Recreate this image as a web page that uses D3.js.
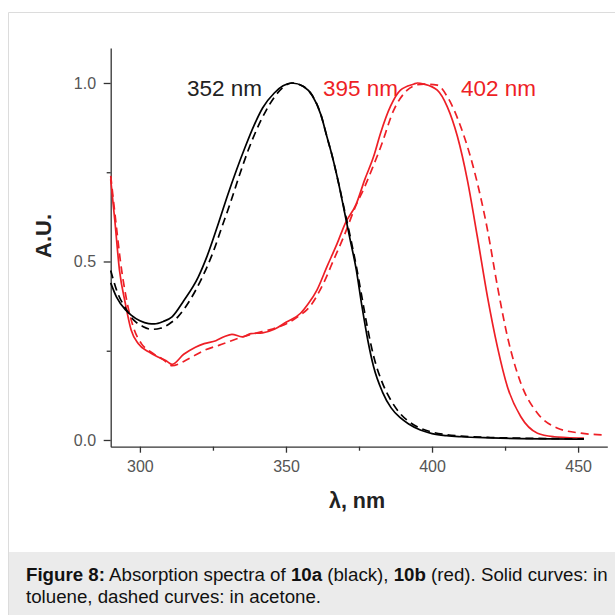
<!DOCTYPE html>
<html>
<head>
<meta charset="utf-8">
<script src="https://cdn.jsdelivr.net/npm/d3@7"></script>
<style>
  html, body { margin: 0; padding: 0; background: #fff; }
  svg { display: block; }
</style>
</head>
<body>
<div id="contenedor"></div>
<script>
// 10a (negro) en tolueno
const lambdaNegroSolido = [290, 292, 295, 297, 300, 303, 305, 308, 311, 315, 320, 323, 327, 330, 333, 336, 339, 342, 346, 349, 352, 356, 359, 362, 364, 366, 368, 370, 372, 374, 376, 378, 380, 383, 386, 389, 392, 396, 400, 405, 410, 420, 430, 440, 452];
const absNegroSolido = [0.44, 0.40, 0.365, 0.35, 0.334, 0.326, 0.325, 0.332, 0.345, 0.39, 0.457, 0.515, 0.61, 0.685, 0.755, 0.82, 0.88, 0.93, 0.972, 0.992, 1.0, 0.99, 0.965, 0.91, 0.85, 0.79, 0.72, 0.64, 0.56, 0.48, 0.375, 0.28, 0.205, 0.135, 0.09, 0.063, 0.045, 0.028, 0.018, 0.012, 0.009, 0.006, 0.004, 0.003, 0.002];

// 10a (negro) en acetona
const lambdaNegroGuiones = [290, 292, 295, 298, 301, 304, 307, 310, 313, 317, 321, 325, 328, 331, 334, 337, 340, 343, 346, 349, 352, 356, 359, 362, 364, 366, 368, 370, 372, 374, 376, 378, 380, 383, 386, 389, 392, 396, 400, 405, 410, 420, 430, 440, 452];
const absNegroGuiones = [0.475, 0.42, 0.37, 0.335, 0.318, 0.31, 0.313, 0.325, 0.345, 0.39, 0.45, 0.525, 0.595, 0.665, 0.74, 0.81, 0.87, 0.92, 0.96, 0.988, 1.0, 0.99, 0.965, 0.91, 0.85, 0.79, 0.72, 0.645, 0.57, 0.49, 0.40, 0.31, 0.235, 0.16, 0.11, 0.075, 0.052, 0.033, 0.022, 0.015, 0.011, 0.007, 0.005, 0.004, 0.003];

// 10b (rojo) en tolueno
const lambdaRojoSolido = [290, 291.4, 293, 295, 297, 299.4, 303, 306, 309, 311, 315, 319, 322, 326, 329, 331.5, 335, 338, 342, 346, 350, 355, 357.5, 360.6, 364, 367.5, 370.3, 374, 377, 380, 382.4, 385.8, 389.2, 393.8, 395, 397.2, 401.8, 405.2, 408.7, 412.1, 415.5, 419, 422.4, 425.8, 430.4, 436.1, 441.8, 446, 452];
const absRojoSolido = [0.73, 0.616, 0.476, 0.383, 0.308, 0.27, 0.247, 0.233, 0.222, 0.212, 0.24, 0.26, 0.27, 0.278, 0.29, 0.296, 0.289, 0.298, 0.3, 0.31, 0.33, 0.355, 0.38, 0.42, 0.485, 0.55, 0.607, 0.66, 0.73, 0.794, 0.86, 0.935, 0.98, 0.997, 1.0, 0.997, 0.98, 0.934, 0.85, 0.728, 0.57, 0.40, 0.26, 0.149, 0.065, 0.019, 0.009, 0.007, 0.005];

// 10b (rojo) en acetona
const lambdaRojoGuiones = [290, 291.5, 293.5, 295.5, 298, 300.5, 304, 308, 311, 315, 319, 322.3, 327, 333.7, 339.5, 345, 350, 354, 358.3, 362.9, 366.3, 369.8, 373.8, 377, 380, 382.4, 386.9, 391.5, 395, 397.2, 401.8, 405.2, 409.8, 414.4, 419, 422.4, 425.8, 430.4, 436.1, 443, 451, 459];
const absRojoGuiones = [0.74, 0.63, 0.49, 0.39, 0.31, 0.27, 0.245, 0.225, 0.208, 0.22, 0.238, 0.252, 0.265, 0.285, 0.299, 0.31, 0.325, 0.345, 0.375, 0.44, 0.504, 0.57, 0.654, 0.71, 0.77, 0.82, 0.924, 0.98, 0.995, 0.997, 0.994, 0.962, 0.878, 0.756, 0.588, 0.43, 0.29, 0.159, 0.075, 0.033, 0.019, 0.014];

const ticksX = [300, 350, 400, 450];
const ticksXMenores = [325, 375, 425];
const ticksY = [0, 0.5, 1.0];
const ticksYMenores = [0.25, 0.75];

const etiquetasPicos = [
    { texto: "352 nm", lambda: 352, color: "negro" },
    { texto: "395 nm", lambda: 395, color: "rojo" },
    { texto: "402 nm", lambda: 402, color: "rojo" }
];

const negro = "#000000", rojo = "#ee1f26";
const colorEje = "#333333", colorTexto = "#555555";
const fuente = "'Liberation Sans', Arial, sans-serif";

const $svg = d3.select("#contenedor")
    .append("svg")
    .attr("width", 615)
    .attr("height", 615);

// marco de la figura y fondo del pie
$svg.append("rect")
    .attr("x", 9).attr("y", 552)
    .attr("width", 606).attr("height", 63)
    .attr("fill", "#ebebeb");
$svg.append("path")
    .attr("d", "M8.5,615 V12.5 H615")
    .attr("fill", "none")
    .attr("stroke", "#dcdcdc")
    .attr("stroke-width", 1);

const x = d3.scaleLinear().domain([290, 460]).range([110.7, 607.3]);
const y = d3.scaleLinear().domain([-0.0188, 1.098]).range([446.7, 48]);

// eje X
const ejeX = $svg.append("g")
    .attr("transform", "translate(0,446.7)")
    .call(d3.axisBottom(x).tickValues(ticksX).tickSize(6).tickSizeOuter(0).tickFormat(d3.format("d")));
$svg.append("g")
    .attr("transform", "translate(0,446.7)")
    .call(d3.axisBottom(x).tickValues(ticksXMenores).tickSize(4).tickSizeOuter(0).tickFormat(""))
    .select(".domain").remove();

// eje Y
const ejeY = $svg.append("g")
    .attr("transform", "translate(110.7,0)")
    .call(d3.axisLeft(y).tickValues(ticksY).tickSize(7).tickSizeOuter(0).tickPadding(6).tickFormat(d3.format(".1f")));
$svg.append("g")
    .attr("transform", "translate(110.7,0)")
    .call(d3.axisLeft(y).tickValues(ticksYMenores).tickSize(4).tickSizeOuter(0).tickFormat(""))
    .select(".domain").remove();

$svg.selectAll(".domain, .tick line")
    .attr("stroke", colorEje)
    .attr("stroke-width", 1.3);
$svg.selectAll(".tick text")
    .attr("fill", colorTexto)
    .attr("font-size", 16)
    .attr("font-family", fuente);
ejeX.selectAll(".tick text").attr("dy", "1.0em");
ejeY.selectAll(".tick text").attr("dx", "-0.1em");

// curvas
const linea = d3.line()
    .x(d => x(d[0]))
    .y(d => y(d[1]))
    .curve(d3.curveMonotoneX);

const series = [
    { lambdas: lambdaRojoGuiones, valores: absRojoGuiones, color: rojo, guiones: "8,5" },
    { lambdas: lambdaRojoSolido, valores: absRojoSolido, color: rojo, guiones: null },
    { lambdas: lambdaNegroGuiones, valores: absNegroGuiones, color: negro, guiones: "8,5" },
    { lambdas: lambdaNegroSolido, valores: absNegroSolido, color: negro, guiones: null }
];

series.forEach(serie => {
    $svg.append("path")
        .attr("d", linea(d3.zip(serie.lambdas, serie.valores)))
        .attr("fill", "none")
        .attr("stroke", serie.color)
        .attr("stroke-width", 1.7)
        .attr("stroke-dasharray", serie.guiones);
});

// etiquetas de los picos
const posicionEtiqueta = { 352: 187, 395: 323, 402: 461 };
etiquetasPicos.forEach(e => {
    $svg.append("text")
        .attr("x", posicionEtiqueta[e.lambda])
        .attr("y", 96)
        .attr("fill", e.color === "rojo" ? rojo : "#222")
        .attr("font-size", 22.5)
        .attr("font-family", fuente)
        .text(e.texto);
});

// titulos de ejes
$svg.append("text")
    .attr("x", 357).attr("y", 508)
    .attr("text-anchor", "middle")
    .attr("font-size", 21.5)
    .attr("font-weight", "bold")
    .attr("font-family", fuente)
    .attr("fill", "#222")
    .text("λ, nm");

$svg.append("text")
    .attr("transform", "translate(51,236) rotate(-90)")
    .attr("text-anchor", "middle")
    .attr("font-size", 22)
    .attr("font-weight", "bold")
    .attr("font-family", fuente)
    .attr("fill", "#222")
    .text("A.U.");

// pie de figura
const pie = $svg.append("text")
    .attr("font-size", 18.7)
    .attr("font-family", fuente)
    .attr("fill", "#111");
const renglon1 = pie.append("tspan").attr("x", 26).attr("y", 581);
renglon1.append("tspan").attr("font-weight", "bold").text("Figure 8:");
renglon1.append("tspan").text(" Absorption spectra of ");
renglon1.append("tspan").attr("font-weight", "bold").text("10a");
renglon1.append("tspan").text(" (black), ");
renglon1.append("tspan").attr("font-weight", "bold").text("10b");
renglon1.append("tspan").text(" (red). Solid curves: in");
pie.append("tspan").attr("x", 26).attr("y", 603).text("toluene, dashed curves: in acetone.");
</script>
</body>
</html>
